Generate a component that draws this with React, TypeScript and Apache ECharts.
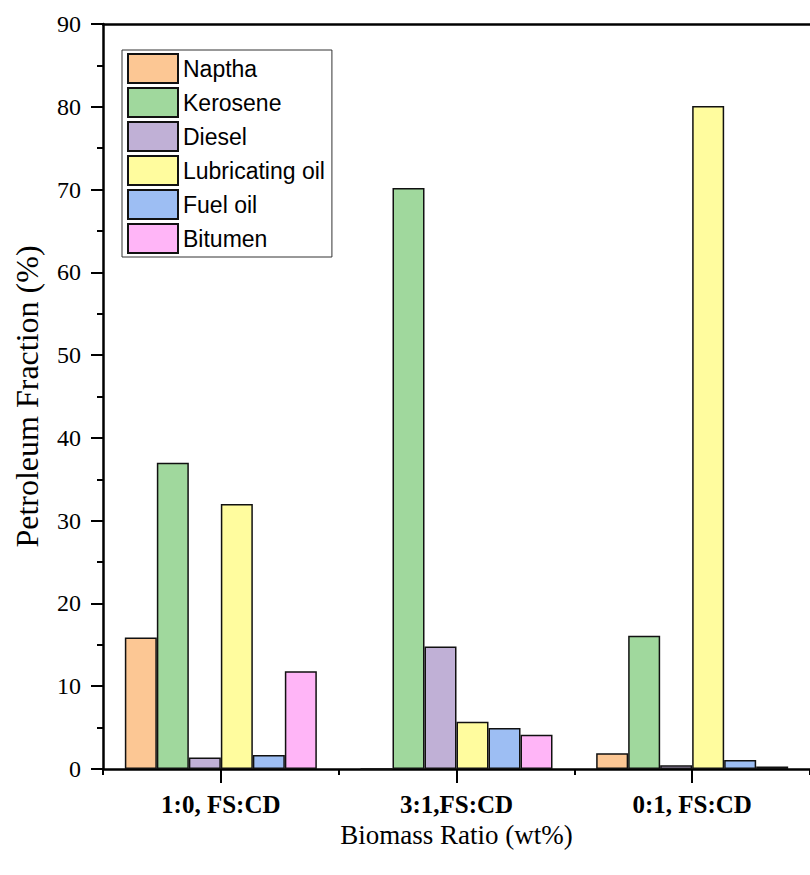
import React, { useEffect, useRef } from "react";
import * as echarts from "echarts";

const categories = ["1:0, FS:CD", "3:1,FS:CD", "0:1, FS:CD"];
const seriesNames = ["Naptha", "Kerosene", "Diesel", "Lubricating oil", "Fuel oil", "Bitumen"];
const naptha = [15.9, 0, 1.9];
const kerosene = [37.0, 70.2, 16.1];
const diesel = [1.4, 14.8, 0.45];
const lubricating = [32.0, 5.7, 80.1];
const fuelOil = [1.7, 4.95, 1.1];
const bitumen = [11.8, 4.15, 0.3];
const colors = ["#FCC794", "#A0D89D", "#C0B0D6", "#FFFC9E", "#9DBEF3", "#FFB5F7"];
const yTicks = [0, 10, 20, 30, 40, 50, 60, 70, 80, 90];

export default function App() {
  const ref = useRef<HTMLDivElement>(null);
  useEffect(() => {
    if (!ref.current) return;
    const chart = echarts.init(ref.current, null, { renderer: "svg" });
    const values = [naptha, kerosene, diesel, lubricating, fuelOil, bitumen];
    const serif = "Liberation Serif";
    const sans = "Liberation Sans";
    chart.setOption({
      animation: false,
      backgroundColor: "#ffffff",
      textStyle: { fontFamily: serif },
      grid: { left: 103, top: 24, width: 715.5, height: 745, containLabel: false },
      legend: {
        left: 122,
        top: 50,
        orient: "vertical",
        data: seriesNames,
        itemWidth: 50,
        itemHeight: 29,
        itemGap: 3,
        padding: [3, 7, 3, 5],
        borderColor: "#333",
        borderWidth: 1,
        icon: "rect",
        textStyle: { fontFamily: sans, fontSize: 23, color: "#000" },
      },
      xAxis: [
        {
          type: "category",
          data: categories,
          position: "bottom",
          axisLine: { show: true, lineStyle: { color: "#000", width: 2.5 } },
          axisTick: { show: true, alignWithLabel: true, length: 14, lineStyle: { color: "#000", width: 2 } },
          axisLabel: { margin: 23, fontFamily: serif, fontWeight: "bold", fontSize: 25, color: "#000" },
          name: "Biomass Ratio (wt%)",
          nameLocation: "middle",
          nameGap: 52,
          nameMoveOverlap: false,
          nameTextStyle: { fontFamily: serif, fontSize: 27, color: "#000", verticalAlign: "top" },
        },
        {
          type: "category",
          data: categories,
          position: "bottom",
          axisLine: { show: false },
          axisTick: { show: true, alignWithLabel: false, length: 6, lineStyle: { color: "#000", width: 2 } },
          axisLabel: { show: false },
        },
        {
          type: "category",
          data: categories,
          position: "top",
          axisLine: { show: true, lineStyle: { color: "#000", width: 2.5 } },
          axisTick: { show: false },
          axisLabel: { show: false },
        },
      ],
      yAxis: {
        type: "value",
        min: yTicks[0],
        max: yTicks[yTicks.length - 1],
        interval: 10,
        axisLine: { show: true, lineStyle: { color: "#000", width: 2.5 } },
        axisTick: { show: true, length: 12, lineStyle: { color: "#000", width: 2 } },
        minorTick: { show: true, splitNumber: 2, length: 6, lineStyle: { color: "#000", width: 2 } },
        splitLine: { show: false },
        axisLabel: { margin: 22, fontFamily: serif, fontSize: 24, color: "#000" },
        name: "Petroleum Fraction (%)",
        nameLocation: "middle",
        nameGap: 60,
        nameRotate: 90,
        nameMoveOverlap: false,
        nameTextStyle: { fontFamily: serif, fontSize: 32, color: "#000" },
      },
      series: seriesNames.map((name, i) => ({
        name,
        type: "bar",
        xAxisIndex: 0,
        data: values[i],
        barWidth: 32,
        barGap: "0%",
        itemStyle: { color: colors[i], borderColor: "#111", borderWidth: 1.5 },
      })),
    });
    return () => chart.dispose();
  }, []);
  return (
    <div
      ref={ref}
      style={{ position: "fixed", left: 0, top: 0, width: 810, height: 875, background: "#fff" }}
    />
  );
}
